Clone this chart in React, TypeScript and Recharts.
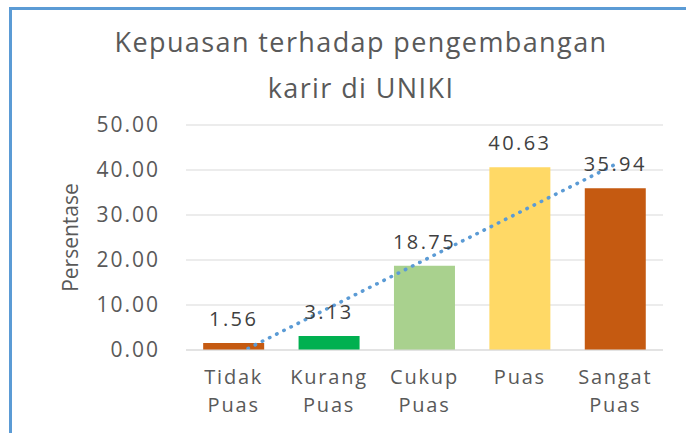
import { ComposedChart, Bar, Line, XAxis, YAxis, CartesianGrid, Cell, LabelList, Label } from 'recharts';

// Satisfaction categories (two-line tick labels)
const categories = ['Tidak Puas', 'Kurang Puas', 'Cukup Puas', 'Puas', 'Sangat Puas'];
const percentages = [1.56, 3.13, 18.75, 40.63, 35.94];
// dotted linear trendline (start is clipped at 0)
const trendValues = [-1.25, 9.38, 20.0, 30.63, 41.25];
const yTicks = [0, 10, 20, 30, 40, 50];

const BAR_COLORS = ['#C55A11', '#00B050', '#A9D18E', '#FFD966', '#C55A11'];
const FONT = "'Open Sans', 'Liberation Sans', sans-serif";

const data = categories.map((c, i) => ({ name: c, value: percentages[i], trend: trendValues[i] }));

function CategoryTick({ x, y, payload }: { x?: number; y?: number; payload?: { value: string } }) {
  const words = String(payload?.value ?? '').split(' ');
  return (
    <text x={x} y={y} textAnchor="middle" fill="#595959" fontSize={20} letterSpacing={1.8} fontFamily={FONT}>
      {words.map((w, i) => (
        <tspan key={i} x={x} dy={i === 0 ? 26 : 28}>
          {w}
        </tspan>
      ))}
    </text>
  );
}

export default function App() {
  return (
    <div style={{ position: 'absolute', left: 0, top: 0, width: 686, height: 433, background: '#fff', overflow: 'hidden' }}>
      <div
        style={{
          position: 'absolute',
          left: 9,
          top: 7,
          width: 720,
          height: 480,
          border: '3px solid #5B9BD5',
          boxSizing: 'border-box',
        }}
      />
      <div
        style={{
          position: 'absolute',
          left: 0,
          top: 19,
          width: 722,
          textAlign: 'center',
          fontFamily: FONT,
          fontSize: 27,
          letterSpacing: 1.4,
          lineHeight: '46px',
          color: '#595959',
        }}
      >
        Kepuasan terhadap pengembangan
        <br />
        karir di UNIKI
      </div>
      <div style={{ position: 'absolute', left: 0, top: 0 }}>
        <ComposedChart
          width={686}
          height={433}
          data={data}
          margin={{ top: 125, right: 23, bottom: 0, left: 0 }}
          barCategoryGap="18%"
        >
          <CartesianGrid vertical={false} stroke="#D9D9D9" strokeWidth={1.2} />
          <XAxis
            dataKey="name"
            axisLine={{ stroke: '#D9D9D9', strokeWidth: 1.2 }}
            tickLine={false}
            tick={<CategoryTick />}
            interval={0}
            height={83}
          />
          <YAxis
            domain={[0, 50]}
            ticks={yTicks}
            allowDataOverflow
            width={186}
            axisLine={false}
            tickLine={false}
            tickSize={0}
            tickMargin={26}
            tickFormatter={(v: number) => v.toFixed(2)}
            tick={{ fill: '#595959', fontSize: 21, fontFamily: FONT, letterSpacing: 2 }}
          >
            <Label
              value="Persentase"
              angle={-90}
              position="insideLeft"
              offset={0}
              dx={71}
              style={{ fill: '#595959', fontSize: 21, fontFamily: FONT, textAnchor: 'middle' }}
            />
          </YAxis>
          <Bar dataKey="value" isAnimationActive={false}>
            {data.map((d, i) => (
              <Cell key={d.name} fill={BAR_COLORS[i]} />
            ))}
            <LabelList
              dataKey="value"
              position="top"
              offset={17}
              formatter={(v: number) => v.toFixed(2)}
              style={{ fill: '#404040', fontSize: 20, fontFamily: FONT, letterSpacing: 2.4 }}
            />
          </Bar>
          <Line
            dataKey="trend"
            stroke="#5B9BD5"
            strokeWidth={3.5}
            strokeDasharray="0.5 7.5"
            strokeLinecap="round"
            dot={false}
            activeDot={false}
            isAnimationActive={false}
            type="linear"
          />
        </ComposedChart>
      </div>
    </div>
  );
}
